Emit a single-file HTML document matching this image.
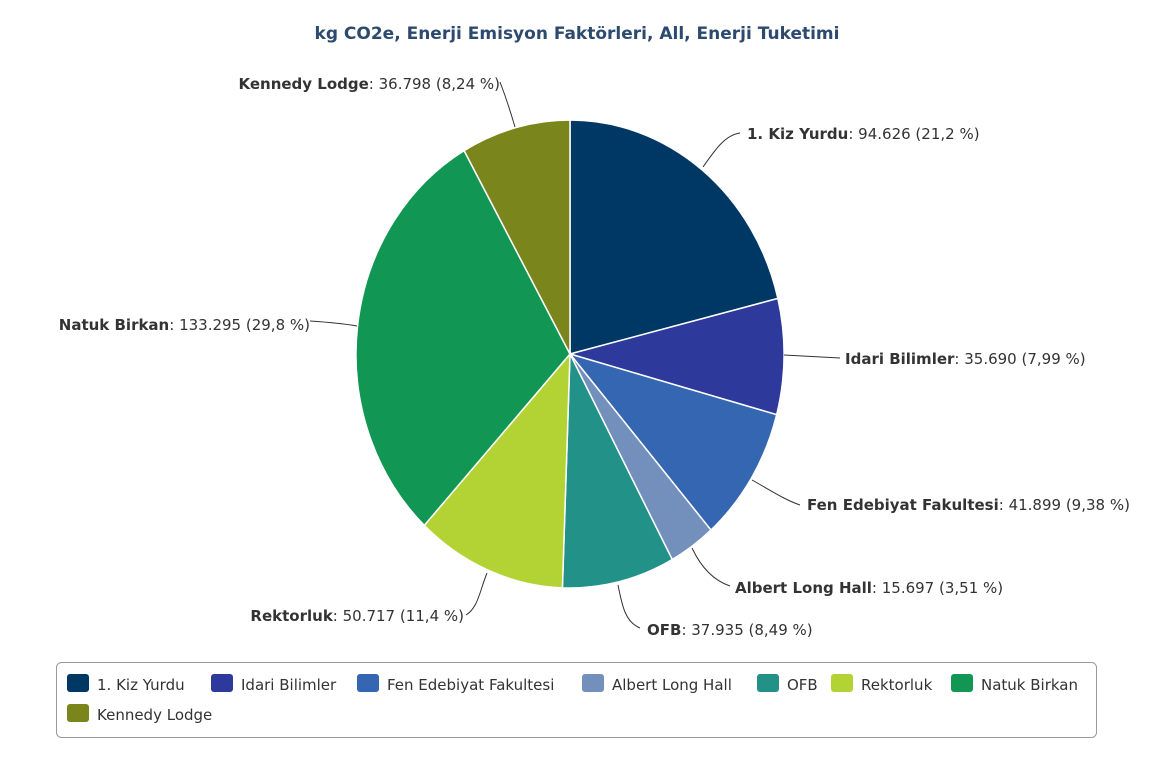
<!DOCTYPE html>
<html><head><meta charset="utf-8"><style>
body{margin:0;background:#fff;width:1154px;height:762px;overflow:hidden;font-family:"DejaVu Sans","Liberation Sans",sans-serif;}
svg text{font-family:"DejaVu Sans","Liberation Sans",sans-serif;}
</style></head><body>
<svg width="1154" height="762" xmlns="http://www.w3.org/2000/svg">
<text x="577" y="39" text-anchor="middle" font-size="17" font-weight="bold" fill="#2c4a6e">kg CO2e, Enerji Emisyon Faktörleri, All, Enerji Tuketimi</text>
<g id="pie" stroke="#fff" stroke-width="1.5"></g>
<g fill="none" stroke="#333" stroke-width="1">
<path d="M703,167 C715,150 725,135 740,133"/>
<path d="M784,355 C800,356 820,357 840,358"/>
<path d="M752,480 C770,490 785,500 800,505"/>
<path d="M692,548 C700,565 712,580 730,586"/>
<path d="M618,585 C622,605 625,622 640,628"/>
<path d="M487,573 C480,590 478,608 466,615"/>
<path d="M357,326 C340,323 325,322 310,321"/>
<path d="M515,127 C510,110 505,95 500,82"/>
</g>
<g font-size="15" fill="#333">
<text x="747" y="139"><tspan font-weight="bold">1. Kiz Yurdu</tspan>: 94.626 (21,2 %)</text>
<text x="845" y="364"><tspan font-weight="bold">Idari Bilimler</tspan>: 35.690 (7,99 %)</text>
<text x="807" y="510"><tspan font-weight="bold">Fen Edebiyat Fakultesi</tspan>: 41.899 (9,38 %)</text>
<text x="735" y="593"><tspan font-weight="bold">Albert Long Hall</tspan>: 15.697 (3,51 %)</text>
<text x="647" y="635"><tspan font-weight="bold">OFB</tspan>: 37.935 (8,49 %)</text>
<text x="464" y="621" text-anchor="end"><tspan font-weight="bold">Rektorluk</tspan>: 50.717 (11,4 %)</text>
<text x="310" y="330" text-anchor="end"><tspan font-weight="bold">Natuk Birkan</tspan>: 133.295 (29,8 %)</text>
<text x="500" y="89" text-anchor="end"><tspan font-weight="bold">Kennedy Lodge</tspan>: 36.798 (8,24 %)</text>
</g>
<rect x="56.5" y="662.5" width="1040" height="75" rx="5" fill="#fff" stroke="#999"/>
<g font-size="15" fill="#333">
<rect x="67" y="674" width="22" height="18" rx="3" fill="#003865"/><text x="97" y="690">1. Kiz Yurdu</text>
<rect x="211" y="674" width="22" height="18" rx="3" fill="#2e3a9b"/><text x="241" y="690">Idari Bilimler</text>
<rect x="357" y="674" width="22" height="18" rx="3" fill="#3566b1"/><text x="387" y="690">Fen Edebiyat Fakultesi</text>
<rect x="582" y="674" width="22" height="18" rx="3" fill="#7390bd"/><text x="612" y="690">Albert Long Hall</text>
<rect x="757" y="674" width="22" height="18" rx="3" fill="#229187"/><text x="787" y="690">OFB</text>
<rect x="831" y="674" width="22" height="18" rx="3" fill="#b3d334"/><text x="861" y="690">Rektorluk</text>
<rect x="951" y="674" width="22" height="18" rx="3" fill="#129653"/><text x="981" y="690">Natuk Birkan</text>
<rect x="67" y="704" width="22" height="18" rx="3" fill="#7a861b"/><text x="97" y="720">Kennedy Lodge</text>
</g>
</svg>
<script>
var v=[94626,35690,41899,15697,37935,50717,133295,36798];
var c=["#003865","#2e3a9b","#3566b1","#7390bd","#229187","#b3d334","#129653","#7a861b"];
var t=v.reduce((a,b)=>a+b,0),cx=570,cy=354,rx=214,ry=234,a=0,h="";
for(var i=0;i<v.length;i++){var a2=a+v[i]/t*2*Math.PI;
var x1=cx+rx*Math.sin(a),y1=cy-ry*Math.cos(a),x2=cx+rx*Math.sin(a2),y2=cy-ry*Math.cos(a2);
h+='<path fill="'+c[i]+'" d="M'+cx+','+cy+'L'+x1+','+y1+'A'+rx+','+ry+' 0 '+((a2-a)>Math.PI?1:0)+' 1 '+x2+','+y2+'Z"/>';a=a2;}
document.getElementById("pie").innerHTML=h;
</script>
</body></html>
